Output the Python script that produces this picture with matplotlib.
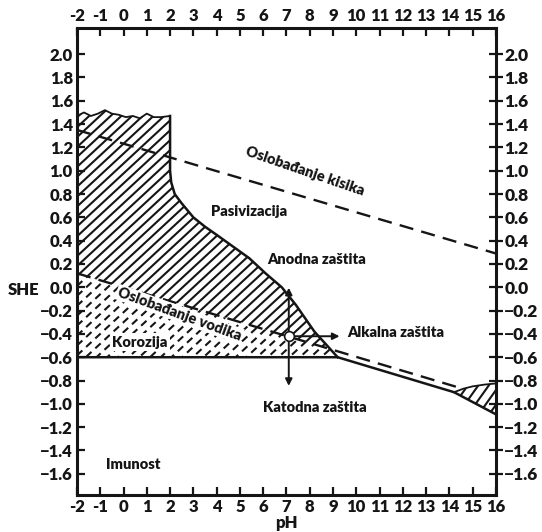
import matplotlib
matplotlib.use("Agg")
import matplotlib.pyplot as plt
from matplotlib.patches import Polygon
import numpy as np

plt.rcParams['font.family'] = ['Lato', 'DejaVu Sans']
plt.rcParams['font.weight'] = 'heavy'
INK = '#151515'

# --- values (pH, E vs SHE in volts) ---
top_ph = [-2.0, -1.7, -1.4, -1.1, -0.8, -0.5, -0.2, 0.1, 0.4, 0.7, 1.0, 1.3, 1.6, 2.0]
top_e = [1.47, 1.50, 1.47, 1.49, 1.52, 1.49, 1.48, 1.46, 1.47, 1.45, 1.49, 1.46, 1.46, 1.47]
curve_ph = [2.0, 2.0, 2.05, 2.2, 2.5, 3.0, 3.5, 4.0, 4.7, 5.4, 6.1, 6.8, 7.4, 8.2, 9.2]
curve_e = [1.47, 1.0, 0.9, 0.8, 0.72, 0.6, 0.52, 0.45, 0.35, 0.25, 0.12, 0.0, -0.15, -0.38, -0.6]
low_ph = [-2.0, 9.2, 14.2, 16.0]
low_e = [-0.6, -0.6, -0.9, -1.09]
wedge_ph = [14.2, 14.6, 15.0, 15.5, 16.0]
wedge_e = [-0.9, -0.87, -0.85, -0.835, -0.825]
o2_ph = [-2.0, 16.0]
o2_e = [1.35, 0.29]
h2_ph = [-2.0, 14.4]
h2_e = [0.12, -0.86]
arrow_ph = 7.1
arrow_e = [0.02, -0.87]
point_e = -0.42
alk_end_ph = 9.4

x_ticks = list(range(-2, 17))
y_ticks = [round(v, 1) for v in np.arange(-1.6, 2.01, 0.2)]

fig = plt.figure(figsize=(5.42, 5.32), dpi=100)
ax = fig.add_axes([0.142, 0.070, 0.773, 0.877])
ax.set_xlim(-2, 16)
ax.set_ylim(-1.78, 2.223)

# crossing of hydrogen line with the corrosion boundary
fine = np.linspace(curve_ph[1], curve_ph[-1], 2000)
cb = np.interp(fine, curve_ph[1:], curve_e[1:])
hl = np.interp(fine, h2_ph, h2_e)
xi = fine[np.argmin(np.abs(cb - hl))]
ei = np.interp(xi, h2_ph, h2_e)

upper = list(zip(top_ph, top_e))
upper += [(p, e) for p, e in zip(curve_ph, curve_e) if p < xi]
upper += [(xi, ei), (h2_ph[0], h2_e[0])]
lower = [(h2_ph[0], h2_e[0]), (xi, ei)]
lower += [(p, e) for p, e in zip(curve_ph, curve_e) if p > xi]
lower += [(low_ph[0], low_e[0])]
wedge = list(zip(wedge_ph, wedge_e)) + [(16.0, low_e[-1])]


def hatch(poly, ls='-', step=0.46, slope=0.185):
    patch = Polygon(poly, closed=True, facecolor='none', edgecolor='none')
    ax.add_patch(patch)
    for p0 in np.arange(-20, 20, step):
        xs = np.array([-2.0, 16.0])
        ln, = ax.plot(xs, slope * (xs - p0), color=INK, lw=1.5, ls=ls)
        ln.set_clip_path(patch)


hatch(upper)
hatch(lower, ls=(0, (3.5, 2.5)))
hatch(wedge, step=0.45, slope=0.28)

ax.plot(top_ph, top_e, color=INK, lw=1.3)
ax.plot(curve_ph, curve_e, color=INK, lw=1.8)
ax.plot(low_ph, low_e, color=INK, lw=1.8)
ax.plot(wedge_ph, wedge_e, color=INK, lw=1.3)
ax.plot(o2_ph, o2_e, color=INK, lw=1.7, ls=(0, (6, 3.5)))
ax.plot(h2_ph, h2_e, color=INK, lw=1.7, ls=(0, (6, 3.5)))

ax.annotate('', xy=(arrow_ph, arrow_e[0]), xytext=(arrow_ph, arrow_e[1]),
            arrowprops=dict(arrowstyle='<|-|>', color=INK, lw=1.4, mutation_scale=10))
ax.annotate('', xy=(alk_end_ph, point_e), xytext=(arrow_ph, point_e),
            arrowprops=dict(arrowstyle='-|>', color=INK, lw=1.4, mutation_scale=10))
ax.plot([arrow_ph], [point_e], 'o', ms=7, mfc='white', mec=INK, mew=1.2, zorder=5)

fs = 10.5
ax.text(7.8, 1.0, 'Oslobađanje kisika', fontsize=fs, rotation=-19, ha='center', va='center',
        rotation_mode='anchor', color=INK)
ax.text(2.4, -0.23, 'Oslobađanje vodika', fontsize=fs, rotation=-20, ha='center', va='center',
        rotation_mode='anchor', color=INK,
        bbox=dict(boxstyle='square,pad=0.1', fc='white', ec='none'))
ax.text(5.4, 0.65, 'Pasivizacija', fontsize=fs, ha='center', va='center', color=INK)
ax.text(8.3, 0.24, 'Anodna zaštita', fontsize=fs, ha='center', va='center', color=INK)
ax.text(11.7, -0.39, 'Alkalna zaštita', fontsize=fs, ha='center', va='center', color=INK)
ax.text(8.2, -1.03, 'Katodna zaštita', fontsize=fs, ha='center', va='center', color=INK)
ax.text(0.4, -1.52, 'Imunost', fontsize=fs, ha='center', va='center', color=INK)
ax.text(0.7, -0.47, 'Korozija', fontsize=fs, ha='center', va='center', color=INK,
        bbox=dict(boxstyle='square,pad=0.15', fc='white', ec='none'))

for s in ax.spines.values():
    s.set_linewidth(2.2)
    s.set_color(INK)

ax.set_xticks(x_ticks)
ax.set_xticklabels([str(t) for t in x_ticks])
ax.set_yticks(y_ticks)
ylabels = ['%.1f' % abs(t) if t >= -0.05 else '\u2212%.1f' % abs(t) for t in y_ticks]
ax.set_yticklabels(ylabels)
ax.tick_params(axis='x', which='both', direction='in', top=True, bottom=True,
               labeltop=True, labelbottom=True, length=6, width=1.6, pad=3,
               labelsize=12, colors=INK)
ax.tick_params(axis='y', which='both', direction='in', left=True, right=False,
               length=6, width=1.6, pad=3, labelsize=12, colors=INK)

ax2 = ax.twinx()
ax2.set_ylim(ax.get_ylim())
ax2.set_yticks(y_ticks)
ax2.set_yticklabels(ylabels)
ax2.tick_params(axis='y', direction='inout', length=10, width=1.6, pad=1,
                labelsize=12.5, colors=INK)
for s in ax2.spines.values():
    s.set_visible(False)

ax.set_xlabel('pH', fontsize=12, fontweight='heavy', labelpad=0, color=INK)
fig.text(0.043, 0.455, 'SHE', fontsize=12, fontweight='heavy', ha='center', va='center', color=INK)

fig.savefig('out.png', dpi=100, facecolor='white')
